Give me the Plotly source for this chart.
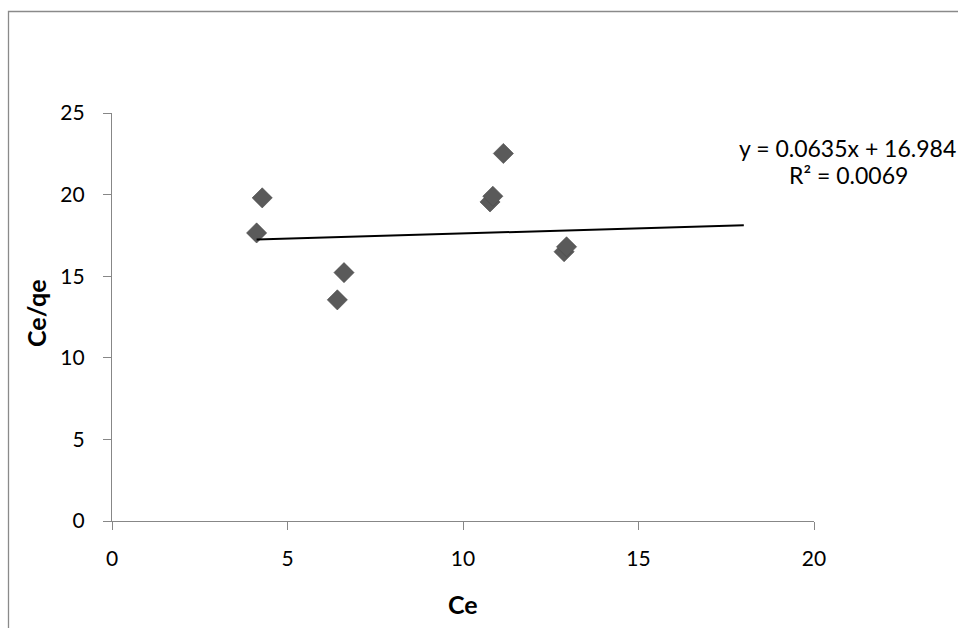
import plotly.graph_objects as go

# Langmuir linearisation data: Ce versus Ce/qe
ce = [4.12, 4.28, 6.42, 6.61, 10.77, 10.85, 11.15, 12.88, 12.95]
ce_qe = [17.65, 19.80, 13.55, 15.22, 19.55, 19.90, 22.52, 16.50, 16.80]

# Linear trendline coefficients (as shown in the equation label)
slope = 0.0635
intercept = 16.984
r_squared = 0.0069
trend_x_end = 18.0

x_ticks = [0, 5, 10, 15, 20]
y_ticks = [0, 5, 10, 15, 20, 25]

W, H = 958, 628
ML, MR, MT, MB = 112, 144, 113, 107
PW, PH = W - ML - MR, H - MT - MB


def px_x(p):
    return (p - ML) / PW


def px_y(p):
    return (H - MB - p) / PH


FONT = "Lato, 'Open Sans', sans-serif"
AXIS_GREY = "#878787"

trend_x = [min(ce), trend_x_end]
trend_y = [slope * v + intercept for v in trend_x]

fig = go.Figure()
fig.add_trace(go.Scatter(
    x=ce, y=ce_qe, mode="markers",
    marker=dict(symbol="diamond", size=15.5, color="#5a5a5a",
                line=dict(color="#4a4a4a", width=0.6)),
    showlegend=False, hoverinfo="x+y",
))
fig.add_trace(go.Scatter(
    x=trend_x, y=trend_y, mode="lines",
    line=dict(color="#000000", width=2),
    showlegend=False, hoverinfo="skip",
))

axis_common = dict(
    showgrid=False, zeroline=False, showline=True, linecolor=AXIS_GREY,
    linewidth=1.3, ticks="outside", ticklen=8, tickcolor=AXIS_GREY,
    tickwidth=1.3, tickfont=dict(family=FONT, size=21, color="#000000"),
    fixedrange=True,
)
fig.update_xaxes(range=[0, 20], tickvals=x_ticks, ticklabelstandoff=11,
                 **axis_common)
fig.update_yaxes(range=[0, 25], tickvals=y_ticks, ticklabelstandoff=14,
                 **axis_common)

annotations = [
    dict(text="<b>Ce</b>", x=px_x(463), y=px_y(604), xref="paper", yref="paper",
         showarrow=False, xanchor="center", yanchor="middle",
         font=dict(family=FONT, size=25, color="#000000")),
    dict(text="<b>Ce/qe</b>", x=px_x(36), y=px_y(313), xref="paper",
         yref="paper", showarrow=False, xanchor="center", yanchor="middle",
         textangle=-90, font=dict(family=FONT, size=25, color="#000000")),
    dict(text=f"y = {slope}x + {intercept}", x=px_x(847), y=px_y(148),
         xref="paper", yref="paper", showarrow=False, xanchor="center",
         yanchor="middle", font=dict(family=FONT, size=23, color="#000000")),
    dict(text=f"R² = {r_squared}", x=px_x(849), y=px_y(175),
         xref="paper", yref="paper", showarrow=False, xanchor="center",
         yanchor="middle", font=dict(family=FONT, size=23, color="#000000")),
]

# Chart-area border (runs off the right and bottom of the page)
shapes = [dict(type="rect", xref="paper", yref="paper",
               x0=px_x(8.5), x1=px_x(W + 40), y0=px_y(H + 40), y1=px_y(11.5),
               line=dict(color="#8a8a8a", width=1.3), fillcolor="rgba(0,0,0,0)",
               layer="below")]

fig.update_layout(
    width=W, height=H,
    margin=dict(l=ML, r=MR, t=MT, b=MB),
    paper_bgcolor="#ffffff", plot_bgcolor="rgba(0,0,0,0)",
    annotations=annotations, shapes=shapes,
    showlegend=False,
)

fig.write_html("out.html", config={"displayModeBar": False})
